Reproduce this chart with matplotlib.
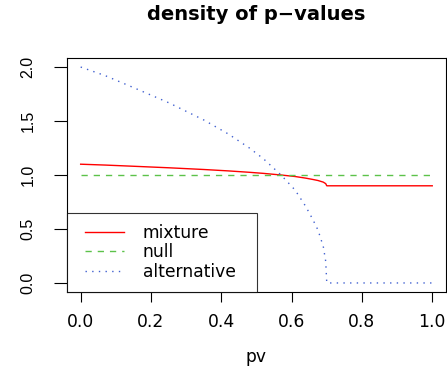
import matplotlib
matplotlib.use('Agg')
import matplotlib.pyplot as plt
from matplotlib.lines import Line2D
from matplotlib.legend_handler import HandlerLine2D

# values
pv = [0.0, 0.07, 0.15, 0.25, 0.35, 0.42, 0.48, 0.52, 0.57, 0.61, 0.64,
      0.66, 0.675, 0.69, 0.697, 0.70, 0.75, 1.0]
alternative = [2.0, 1.92, 1.81, 1.67, 1.51, 1.38, 1.25, 1.15, 1.0, 0.86, 0.71,
               0.59, 0.49, 0.34, 0.20, 0.0, 0.0, 0.0]
mixture = [1.1, 1.092, 1.081, 1.067, 1.051, 1.038, 1.025, 1.015, 1.0, 0.986, 0.971,
           0.959, 0.949, 0.934, 0.92, 0.9, 0.9, 0.9]
null = [1.0] * len(pv)

labels = ['mixture', 'null', 'alternative']
xticks = [0.0, 0.2, 0.4, 0.6, 0.8, 1.0]
yticks = [0.0, 0.5, 1.0, 1.5, 2.0]

# the reference text is wide, DejaVu Sans gets closer for horizontal text
hfont = ['DejaVu Sans']
vfont = ['Liberation Sans', 'DejaVu Sans']
fs = 12.3

fig = plt.figure(figsize=(4.47, 3.70), dpi=100)
ax = fig.add_axes([66.6 / 447, 1 - 291.6 / 370, (446.3 - 66.6) / 447, (291.6 - 58.4) / 370])

ax.plot(pv, mixture, color='red', lw=1.0, label=labels[0])
ax.plot(pv, null, color='#5cc24a', lw=1.0, dashes=(4.5, 4.3), label=labels[1])
ax.plot(pv, alternative, color='#4060d0', lw=1.0, dashes=(1, 3.8), label=labels[2])

ax.set_xlim(-0.04, 1.04)
ax.set_ylim(-0.08, 2.08)
ax.set_xticks(xticks)
ax.set_yticks(yticks)
ax.set_xticklabels([f'{v:.1f}' for v in xticks], family=hfont, fontsize=fs)
ax.set_yticklabels([f'{v:.1f}' for v in yticks], rotation=90, va='center',
                   family=vfont, fontsize=11.5)
ax.tick_params(axis='both', width=0.8, color='black')
ax.tick_params(axis='x', length=7.5, pad=8)
ax.tick_params(axis='y', length=9.4, pad=13)
for s in ax.spines.values():
    s.set_linewidth(0.8)

ax.set_xlabel('pv', family=hfont, fontsize=fs, labelpad=12)
fig.text(256.5 / 447, 1 - 20 / 370, 'density of p\u2212values', ha='center', va='baseline',
         family=hfont, fontsize=14, fontweight='bold')

leg = ax.legend(loc='lower left', bbox_to_anchor=(0, 0, 190 / 379.7, 0.3), mode='expand',
                prop={'family': hfont, 'size': fs}, frameon=True, fancybox=False,
                borderaxespad=0, borderpad=0.63, handlelength=2.74, handletextpad=1.09,
                labelspacing=0.09, handler_map={Line2D: HandlerLine2D(xpad=0.45)})
leg.get_frame().set_edgecolor('black')
leg.get_frame().set_linewidth(0.8)

fig.savefig('out.png', dpi=100)
